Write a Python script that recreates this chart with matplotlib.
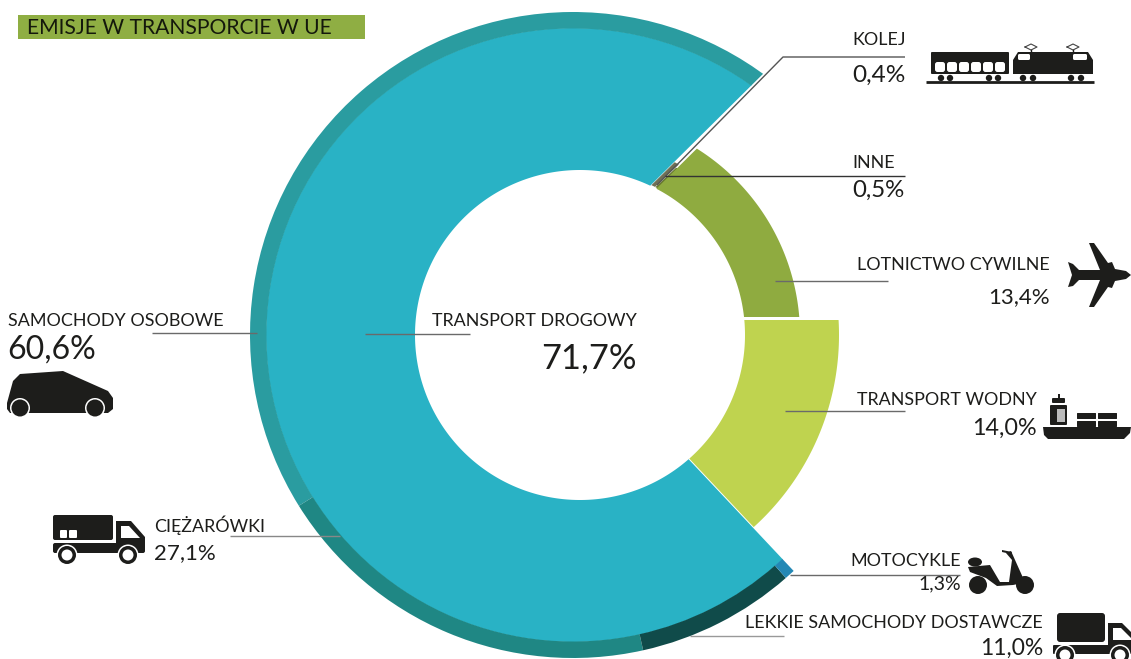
import numpy as np
import matplotlib
matplotlib.use('Agg')
import matplotlib.pyplot as plt
from matplotlib.patches import Wedge, Polygon, Circle, Rectangle, FancyBboxPatch, Ellipse
from matplotlib.path import Path

plt.rcParams['font.family'] = ['Lato', 'DejaVu Sans']

# outer ring, shares inside road transport
road_labels = ['SAMOCHODY OSOBOWE', 'CIĘŻARÓWKI', 'LEKKIE SAMOCHODY DOSTAWCZE', 'MOTOCYKLE']
road_values = [60.6, 27.1, 11.0, 1.3]
road_colors = ['#2A9CA0', '#1F8784', '#104B4A', '#2488B5']
# main donut
road_total = 71.7
other_labels = ['KOLEJ', 'INNE', 'LOTNICTWO CYWILNE', 'TRANSPORT WODNY']
other_values = [0.4, 0.5, 13.4, 14.0]
title = 'EMISJE W TRANSPORCIE W UE'

W, H = 1131, 659
INK = '#1d1d1b'
LINE = '#6a6a6a'


def Y(y):
    # reference pixels count from the top
    return H - y


def pct(v):
    return f'{v:.1f}%'.replace('.', ',')


fig = plt.figure(figsize=(W / 100, H / 100), dpi=100, facecolor='white')
ax = fig.add_axes([0, 0, 1, 1])
ax.set_xlim(0, W)
ax.set_ylim(0, H)
ax.axis('off')

hole_c = (580, Y(335))
ring_c = (573, Y(335))
apex = (537, Y(298))
deg_per_pct = 3.34  # the drawing squeezes the small slices a bit


def annulus(c_out, r_out, c_in, r_in):
    t = np.linspace(0, 2 * np.pi, 721)
    outer = np.c_[c_out[0] + r_out * np.cos(t), c_out[1] + r_out * np.sin(t)]
    inner = np.c_[c_in[0] + r_in * np.cos(t[::-1]), c_in[1] + r_in * np.sin(t[::-1])]
    verts = np.r_[outer, inner]
    codes = np.full(len(verts), Path.LINETO)
    codes[0] = Path.MOVETO
    codes[len(outer)] = Path.MOVETO
    return Path(verts, codes)


def clipped(patch, path):
    ax.add_patch(patch)
    patch.set_clip_path(path, ax.transData)


kolej, inne, lot, wod = other_values
top_angle = lot * deg_per_pct
bot_angle = -wod * deg_per_pct

# road transport
road_clip = annulus(ring_c, 307, hole_c, 165)
clipped(Wedge(apex, 500, top_angle, 360 + bot_angle, fc='#29B2C5', ec='none'), road_clip)

# ring around it
ring_start = 54.0
ring_span = 260.6
road_wedge = Wedge(apex, 500, top_angle, 360 + bot_angle)
road_outline = road_wedge.get_path().transformed(road_wedge.get_patch_transform())
edges = ring_start + np.r_[0, np.cumsum(road_values)] / sum(road_values) * ring_span
for i, col in enumerate(road_colors):
    a, b = edges[i], edges[i + 1]
    if i == 0:
        a -= 4
    if i == len(road_colors) - 1:
        b += 4
    clipped(Wedge(ring_c, 323, a, b, width=16.5, fc=col, ec='none'), road_outline)

# slivers in the gap between road and air
gap = 0.15
a2 = top_angle - gap
a1 = a2 - kolej * deg_per_pct
clipped(Wedge(apex, 500, a1, a2, fc='#6f6f55', ec='none'), annulus(hole_c, 197, hole_c, 166))
a2 = a1 - gap
a1 = a2 - inne * deg_per_pct
clipped(Wedge(apex, 500, a1, a2, fc='#66772f', ec='none'), annulus(hole_c, 193, hole_c, 166))

# air and water use their own centres, the split between them is horizontal
clipped(Wedge((527, Y(317)), 500, 0, lot * deg_per_pct, fc='#8FAB40', ec='none'),
        annulus(hole_c, 220, hole_c, 165))
clipped(Wedge((559, Y(320)), 500, -wod * deg_per_pct, 0, fc='#BFD34F', ec='none'),
        annulus(hole_c, 259, hole_c, 165))

# title bar
ax.add_patch(Rectangle((18, Y(39)), 347, 24, fc='#8FAE43', ec='none'))
ax.text(27, Y(27.5), title, fontsize=15.2, color='#14180c', va='center', ha='left')


def leader(xs, ys, color=LINE, lw=1.0):
    ax.plot(xs, [Y(v) for v in ys], color=color, lw=lw, solid_capstyle='butt')


leader([657, 783, 905], [185, 57, 57], color='#555555')
leader([665, 905], [176, 176], color='#333333')
leader([775, 888], [281, 281])
leader([785, 905], [411, 411])
leader([790, 960], [575, 575])
leader([690, 784], [636, 636], color='#999999')
leader([230, 340], [536, 536], color='#888888')
leader([152, 257], [333, 333])
leader([365, 470], [334, 334])


def label(x, y, s, size=12.9, ha='left'):
    ax.text(x, Y(y), s, fontsize=size, color=INK, ha=ha, va='center')


label(852, 40, other_labels[0])
label(852, 75, pct(kolej), 17.6)
label(852, 163, other_labels[1])
label(852, 190, pct(inne), 17.3)
label(1050, 265, other_labels[2], ha='right')
label(1050, 297, pct(lot), 16, ha='right')
label(1037, 400, other_labels[3], ha='right')
label(1037, 428, pct(wod), 16.8, ha='right')
label(961, 561, road_labels[3], ha='right')
label(961, 584, pct(road_values[3]), 14, ha='right')
label(1043, 623, road_labels[2], ha='right')
label(1043, 648, pct(road_values[2]), 16.5, ha='right')
label(8, 321, road_labels[0])
label(7, 350, pct(road_values[0]), 23)
label(154, 525, road_labels[1])
label(154, 553, pct(road_values[1]), 16)
label(637, 321, 'TRANSPORT DROGOWY', ha='right')
label(637, 358, pct(road_total), 24.8, ha='right')


# icons, drawn in reference pixels
def poly(pts, fc=INK):
    ax.add_patch(Polygon([(x, Y(y)) for x, y in pts], closed=True, fc=fc, ec='none'))


def box(x0, y0, x1, y1, fc=INK, r=2):
    ax.add_patch(FancyBboxPatch((x0 + r, Y(y1) + r), x1 - x0 - 2 * r, y1 - y0 - 2 * r,
                                boxstyle=f'round,pad={r},rounding_size={r}', fc=fc, ec='none'))


def wheel(x, y, r, inner=None):
    ax.add_patch(Circle((x, Y(y)), r + 1.5, fc='white', ec='none'))
    ax.add_patch(Circle((x, Y(y)), r, fc=INK, ec='none'))
    if inner:
        ax.add_patch(Circle((x, Y(y)), inner, fc='white', ec='none'))


# car
poly([(7, 403), (13, 381), (20, 374), (63, 371), (108, 391), (113, 398), (113, 409), (108, 413), (10, 413), (7, 409)])
wheel(20, 408, 8.5)
wheel(95, 408, 8.5)

# truck
box(53, 515, 113, 540)
box(53, 543, 145, 553)
poly([(116, 521), (131, 521), (145, 537), (145, 545), (116, 545)])
poly([(121, 526), (129, 526), (140, 538), (121, 538)], fc='white')
box(60, 530, 67, 538, fc='white', r=1)
box(69, 530, 77, 538, fc='white', r=1)
wheel(67, 555, 9, 5.5)
wheel(128, 555, 9, 5.5)

# plane
poly([(1068, 262), (1073, 264), (1079, 270), (1100, 270), (1089, 243), (1094, 243), (1108, 263), (1112, 262),
      (1115, 269), (1126, 271), (1131, 275), (1126, 279), (1115, 281), (1112, 288), (1108, 287), (1094, 307),
      (1089, 307), (1100, 280), (1079, 280), (1073, 286), (1068, 287), (1072, 275)])

# ship
poly([(1043, 427), (1131, 427), (1130, 433), (1124, 439), (1048, 439), (1044, 435)])
box(1050, 405, 1067, 425, r=1)
box(1052, 398, 1065, 403, r=1)
ax.add_patch(Rectangle((1058, Y(398)), 2, 4, fc=INK, ec='none'))
ax.add_patch(Rectangle((1057, Y(422)), 8, 13, fc='#bbbbbb', ec='none'))
box(1077, 413, 1096, 419, r=0.5)
box(1098, 413, 1117, 419, r=0.5)
box(1077, 421, 1096, 427, r=0.5)
box(1098, 421, 1117, 427, r=0.5)

# scooter
wheel(978, 585, 9)
wheel(1025, 585, 9)
ax.add_patch(Ellipse((975, Y(562)), 14, 9, fc=INK, ec='none'))
poly([(968, 567), (990, 565), (1000, 582), (1009, 582), (1012, 560), (1006, 553), (1011, 551), (1024, 580),
      (1018, 584), (1013, 585), (997, 586), (986, 578), (970, 572)])
poly([(1002, 550), (1012, 552), (1011, 554), (1002, 552)])

# van
box(1057, 613, 1105, 642, r=3)
box(1053, 645, 1131, 654, r=1)
poly([(1108, 623), (1122, 623), (1131, 632), (1131, 648), (1108, 648)])
poly([(1113, 628), (1121, 628), (1131, 638), (1131, 640), (1113, 640)], fc='white')
wheel(1065, 655, 9, 5.5)
wheel(1120, 655, 9, 5.5)

# train
box(931, 52, 1009, 74, r=1)
for wx in [940, 952, 964, 976, 988, 1000]:
    box(wx - 5, 62, wx + 5, 72, fc='white', r=2.5)
poly([(1018, 52), (1088, 52), (1093, 60), (1093, 74), (1013, 74), (1013, 60)])
box(1018, 54, 1030, 60, fc='white', r=1.5)
box(1073, 54, 1087, 60, fc='white', r=1.5)
for wx in [941, 950, 989, 998, 1023, 1033, 1071, 1081]:
    ax.add_patch(Circle((wx, Y(78)), 3.2, fc=INK, ec='none'))
ax.plot([926, 1094], [Y(82), Y(82)], color=INK, lw=2.0, solid_capstyle='butt')
for px in [1031, 1073]:
    ax.plot([px - 6, px, px + 6, px, px - 6], [Y(47), Y(44), Y(47), Y(50), Y(47)], color='#444444', lw=0.8)
    ax.plot([px, px], [Y(50), Y(52)], color=INK, lw=1)

fig.savefig('out.png', dpi=100, facecolor='white')
